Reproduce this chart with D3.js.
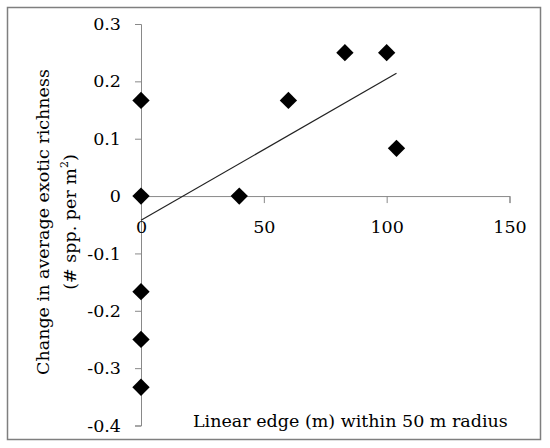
<!DOCTYPE html>
<html lang="en">
<head>
<meta charset="UTF-8">
<title>Exotic richness vs linear edge</title>
<script src="https://d3js.org/d3.v7.min.js"></script>
<style>
  body { margin: 0; background: #fff; }
  svg { display: block; }
  svg text { font-family: "Palatino Linotype", "Book Antiqua", Palatino, "DejaVu Serif", serif; }
</style>
</head>
<body>
<svg id="chart" width="550" height="448"></svg>
<script>
// data
const edgeLength = [0, 0, 0, 0, 0, 40, 60, 83, 100, 104];
const richnessChange = [0.1667, 0, -0.1667, -0.25, -0.3333, 0, 0.1667, 0.25, 0.25, 0.0833];
// linear trendline as drawn in the original
const trendX = [0, 104];
const trendY = [-0.042, 0.214];
const xTicks = [0, 50, 100, 150];
const yTicks = [-0.4, -0.3, -0.2, -0.1, 0, 0.1, 0.2, 0.3];

const svg = d3.select("#chart");

// outer frame
svg.append("rect")
  .attr("x", 7.5).attr("y", 7.5)
  .attr("width", 533).attr("height", 432)
  .attr("fill", "none")
  .attr("stroke", "#7f7f7f")
  .attr("stroke-width", 1.5);

const x = d3.scaleLinear().domain([0, 150]).range([141, 509.5]);
const y = d3.scaleLinear().domain([-0.4, 0.3]).range([425.5, 24]);

const axisColor = "#898989";
const fontSize = 17.5;

// y axis
const yAxis = svg.append("g")
  .attr("transform", `translate(${x(0)},0)`)
  .call(d3.axisLeft(y).tickValues(yTicks).tickSize(6).tickPadding(14)
    .tickFormat(d => d === 0 ? "0" : d.toFixed(1)));
yAxis.attr("font-family", null).attr("font-size", fontSize);
yAxis.select(".domain").attr("stroke", axisColor);
yAxis.selectAll(".tick line").attr("stroke", axisColor);
yAxis.selectAll(".tick text").attr("fill", "#000");

// x axis through zero
const xAxis = svg.append("g")
  .attr("transform", `translate(0,${y(0)})`)
  .call(d3.axisBottom(x).tickValues(xTicks).tickSize(7).tickPadding(18));
xAxis.attr("font-family", null).attr("font-size", fontSize);
xAxis.select(".domain").attr("stroke", axisColor);
xAxis.selectAll(".tick line").attr("stroke", axisColor);
xAxis.selectAll(".tick text").attr("fill", "#000");

// trendline
svg.append("line")
  .attr("x1", x(trendX[0])).attr("y1", y(trendY[0]))
  .attr("x2", x(trendX[1])).attr("y2", y(trendY[1]))
  .attr("stroke", "#222")
  .attr("stroke-width", 1.2);

// diamond markers
const diamond = d3.symbol().type(d3.symbolSquare).size(150);
svg.append("g")
  .selectAll("path")
  .data(edgeLength.map((d, i) => [d, richnessChange[i]]))
  .join("path")
  .attr("d", diamond)
  .attr("transform", d => `translate(${x(d[0])},${y(d[1])}) rotate(45)`)
  .attr("fill", "#000");

// axis titles
svg.append("text")
  .attr("x", 193).attr("y", 427)
  .attr("font-size", fontSize)
  .text("Linear edge (m) within 50 m radius");

const yTitle = svg.append("text")
  .attr("transform", "translate(0,222) rotate(-90)")
  .attr("text-anchor", "middle")
  .attr("font-size", fontSize);
yTitle.append("tspan").attr("x", 0).attr("y", 49).text("Change in average exotic richness");
const line2 = yTitle.append("tspan").attr("x", 0).attr("y", 76);
line2.append("tspan").text("(# spp. per m");
line2.append("tspan").attr("font-size", 11).attr("dy", -8).text("2");
line2.append("tspan").attr("dy", 8).text(")");
</script>
</body>
</html>
